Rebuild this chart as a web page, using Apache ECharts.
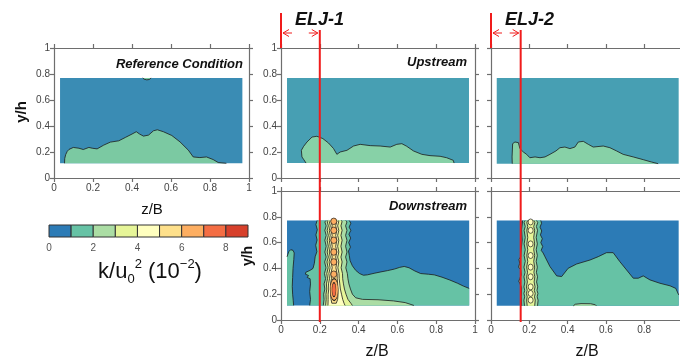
<!DOCTYPE html>
<html><head><meta charset="utf-8">
<script src="https://cdn.jsdelivr.net/npm/echarts@6/dist/echarts.min.js"></script>
<style>html,body{margin:0;padding:0;background:#fff}#c{width:680px;height:360px}</style>
</head><body><div id="c"></div>
<script>
// ---------------- DATA ----------------
const levels = [0, 1, 2, 3, 4, 5, 6, 7, 8, 9];
const levelColors = ['#2c7bb6', '#66c2a5', '#abdda4', '#e6f598', '#ffffbf', '#fee08b', '#fdae61', '#f46d43', '#d7402b'];
const colorbarTicks = [0, 2, 4, 6, 8];
const panelTitles = ['Reference Condition', 'Upstream', 'Upstream', 'Downstream', 'Downstream'];
const jetNames = ['ELJ-1', 'ELJ-2'];
const jetPositions = [0.2, 0.155];         // z/B of the jets (red lines)

// measurement window (z/B from, z/B to, y/h from, y/h to)
const rectRef = [0.031, 0.966, 0.113, 0.77];
const rectUp1 = [0.031, 0.969, 0.115, 0.77];
const rectUp2 = [0.030, 0.980, 0.110, 0.77];
const rectDn1 = [0.031, 0.970, 0.113, 0.771];
const rectDn2 = [0.030, 0.980, 0.110, 0.771];

// Reference condition: 1-2 contour
const refGreen = [[0.054,0.113],[0.055,0.15],[0.060,0.18],[0.068,0.205],[0.077,0.22],[0.099,0.235],[0.128,0.229],[0.150,0.219],[0.179,0.235],[0.196,0.229],[0.221,0.224],[0.255,0.253],[0.289,0.276],[0.332,0.286],[0.366,0.312],[0.400,0.338],[0.422,0.356],[0.439,0.338],[0.459,0.322],[0.485,0.330],[0.510,0.363],[0.530,0.371],[0.561,0.356],[0.604,0.327],[0.646,0.278],[0.689,0.214],[0.714,0.162],[0.748,0.157],[0.782,0.162],[0.816,0.142],[0.842,0.119],[0.884,0.113]];
const refTopBump = [[0.455,0.77],[0.462,0.76],[0.476,0.755],[0.490,0.758],[0.497,0.77]];

// Upstream ELJ-1
const up1Green = [[0.129,0.115],[0.118,0.14],[0.108,0.162],[0.105,0.213],[0.117,0.244],[0.134,0.277],[0.160,0.315],[0.185,0.321],[0.216,0.303],[0.245,0.269],[0.271,0.226],[0.288,0.182],[0.305,0.200],[0.340,0.213],[0.374,0.246],[0.408,0.259],[0.460,0.249],[0.511,0.246],[0.563,0.238],[0.597,0.259],[0.623,0.264],[0.648,0.244],[0.683,0.208],[0.726,0.182],[0.768,0.172],[0.820,0.167],[0.854,0.156],[0.888,0.136],[0.892,0.115]];

// Upstream ELJ-2
const up2Green = [[0.111,0.110],[0.110,0.162],[0.113,0.264],[0.125,0.277],[0.143,0.272],[0.151,0.226],[0.169,0.200],[0.186,0.182],[0.203,0.156],[0.230,0.162],[0.256,0.156],[0.282,0.162],[0.308,0.182],[0.339,0.208],[0.360,0.233],[0.386,0.238],[0.412,0.226],[0.438,0.238],[0.456,0.277],[0.482,0.282],[0.508,0.259],[0.534,0.238],[0.586,0.246],[0.621,0.233],[0.656,0.208],[0.690,0.182],[0.743,0.162],[0.795,0.141],[0.838,0.123],[0.873,0.110]];

// Downstream ELJ-1
const dn1GreenLeft = [[0.186,0.771],[0.180,0.74],[0.187,0.70],[0.180,0.66],[0.186,0.62],[0.179,0.58],[0.185,0.53],[0.176,0.49],[0.172,0.44],[0.165,0.40],[0.150,0.385],[0.128,0.37],[0.126,0.355],[0.142,0.345],[0.135,0.33],[0.150,0.32],[0.152,0.28],[0.148,0.22],[0.152,0.16],[0.148,0.113]];
const dn1GreenRight = [[0.352,0.771],[0.360,0.75],[0.351,0.72],[0.360,0.695],[0.350,0.665],[0.359,0.635],[0.349,0.60],[0.358,0.565],[0.348,0.535],[0.352,0.50],[0.356,0.46],[0.368,0.42],[0.385,0.385],[0.405,0.36],[0.425,0.347],[0.445,0.35],[0.48,0.362],[0.515,0.373],[0.55,0.383],[0.585,0.395],[0.612,0.408],[0.635,0.415],[0.66,0.405],[0.69,0.38],[0.72,0.36],[0.76,0.355],[0.79,0.35],[0.83,0.332],[0.87,0.31],[0.91,0.285],[0.94,0.263],[0.970,0.245]];
const dn1Strip = [[0.031,0.49],[0.040,0.53],[0.050,0.545],[0.062,0.54],[0.068,0.52],[0.066,0.47],[0.062,0.40],[0.060,0.33],[0.058,0.26],[0.060,0.20],[0.063,0.15],[0.065,0.113]];
const dn1L2Left = [[0.232,0.771],[0.226,0.76],[0.233,0.73],[0.226,0.695],[0.233,0.656],[0.226,0.618],[0.233,0.572],[0.226,0.527],[0.233,0.488],[0.225,0.45],[0.232,0.405],[0.224,0.36],[0.230,0.32],[0.222,0.28],[0.226,0.24],[0.220,0.20],[0.222,0.16],[0.218,0.113]];
const dn1L2Right = [[0.334,0.771],[0.340,0.76],[0.333,0.73],[0.340,0.695],[0.333,0.656],[0.340,0.618],[0.333,0.572],[0.340,0.527],[0.333,0.488],[0.340,0.45],[0.334,0.405],[0.342,0.36],[0.345,0.32],[0.350,0.28],[0.358,0.24],[0.368,0.20],[0.385,0.172],[0.42,0.16],[0.50,0.157],[0.58,0.148],[0.64,0.135],[0.685,0.113]];
const dn1L3Left = [[0.243,0.771],[0.238,0.765],[0.244,0.73],[0.238,0.695],[0.244,0.656],[0.238,0.618],[0.244,0.572],[0.238,0.527],[0.244,0.488],[0.237,0.45],[0.243,0.405],[0.236,0.36],[0.240,0.32],[0.234,0.28],[0.236,0.24],[0.232,0.20],[0.233,0.16],[0.230,0.113]];
const dn1L3Right = [[0.310,0.771],[0.315,0.765],[0.309,0.73],[0.315,0.695],[0.309,0.656],[0.315,0.618],[0.309,0.572],[0.315,0.527],[0.309,0.488],[0.315,0.45],[0.310,0.405],[0.317,0.36],[0.318,0.32],[0.322,0.28],[0.327,0.24],[0.335,0.20],[0.345,0.16],[0.360,0.13],[0.368,0.113]];
const dn1L4Left = [[0.253,0.771],[0.249,0.765],[0.254,0.73],[0.249,0.695],[0.254,0.656],[0.249,0.618],[0.254,0.572],[0.249,0.527],[0.254,0.488],[0.248,0.45],[0.253,0.405],[0.247,0.36],[0.250,0.32],[0.245,0.28],[0.246,0.24],[0.243,0.20],[0.243,0.16],[0.242,0.113]];
const dn1L4Right = [[0.293,0.771],[0.298,0.765],[0.292,0.73],[0.298,0.695],[0.292,0.656],[0.298,0.618],[0.292,0.572],[0.298,0.527],[0.292,0.488],[0.298,0.45],[0.293,0.405],[0.299,0.36],[0.300,0.32],[0.303,0.28],[0.306,0.24],[0.312,0.20],[0.318,0.16],[0.325,0.13],[0.330,0.113]];
const dn1L5Left = [[0.262,0.771],[0.258,0.765],[0.264,0.73],[0.258,0.695],[0.264,0.656],[0.258,0.618],[0.264,0.572],[0.258,0.527],[0.264,0.488],[0.258,0.45],[0.264,0.405],[0.257,0.36],[0.260,0.32],[0.255,0.28],[0.256,0.24],[0.255,0.20],[0.258,0.16],[0.262,0.13]];
const dn1L5Right = [[0.284,0.771],[0.288,0.765],[0.282,0.73],[0.288,0.695],[0.282,0.656],[0.288,0.618],[0.282,0.572],[0.288,0.527],[0.282,0.488],[0.288,0.45],[0.283,0.405],[0.289,0.36],[0.290,0.32],[0.292,0.28],[0.293,0.24],[0.294,0.20],[0.292,0.16],[0.285,0.13]];
const dn1Beads = [[0.272,0.765],[0.272,0.695],[0.272,0.618],[0.272,0.527],[0.272,0.45],[0.272,0.355]];
const dn1Core6 = [[0.274,0.235]];
const dn1Core7 = [[0.273,0.235]];

// Downstream ELJ-2
const dn2GreenLeft = [[0.165,0.771],[0.160,0.70],[0.163,0.62],[0.158,0.55],[0.155,0.49],[0.146,0.47],[0.150,0.44],[0.144,0.41],[0.155,0.39],[0.158,0.35],[0.150,0.32],[0.145,0.30],[0.152,0.28],[0.160,0.25],[0.158,0.18],[0.160,0.11]];
const dn2GreenRight = [[0.260,0.771],[0.264,0.75],[0.256,0.72],[0.265,0.69],[0.258,0.66],[0.268,0.63],[0.260,0.60],[0.270,0.57],[0.262,0.54],[0.272,0.52],[0.282,0.49],[0.308,0.414],[0.343,0.342],[0.369,0.337],[0.403,0.401],[0.447,0.434],[0.517,0.465],[0.560,0.491],[0.603,0.522],[0.638,0.522],[0.673,0.452],[0.708,0.388],[0.743,0.324],[0.769,0.324],[0.795,0.342],[0.830,0.311],[0.882,0.285],[0.935,0.265],[0.965,0.245],[0.980,0.195]];
const dn2L2Left = [[0.178,0.771],[0.173,0.755],[0.179,0.725],[0.173,0.695],[0.179,0.64],[0.173,0.59],[0.179,0.545],[0.173,0.50],[0.179,0.455],[0.172,0.41],[0.178,0.37],[0.172,0.335],[0.177,0.295],[0.172,0.257],[0.176,0.23],[0.172,0.206],[0.176,0.18],[0.172,0.154],[0.175,0.11]];
const dn2L2Right = [[0.238,0.771],[0.244,0.755],[0.237,0.725],[0.243,0.695],[0.236,0.64],[0.242,0.59],[0.236,0.545],[0.242,0.50],[0.236,0.455],[0.242,0.41],[0.237,0.37],[0.243,0.335],[0.238,0.295],[0.244,0.257],[0.240,0.23],[0.245,0.206],[0.241,0.18],[0.246,0.154],[0.243,0.11]];
const dn2L3Left = [[0.191,0.771],[0.187,0.755],[0.192,0.725],[0.187,0.695],[0.192,0.64],[0.187,0.59],[0.192,0.545],[0.187,0.50],[0.192,0.455],[0.186,0.41],[0.191,0.37],[0.186,0.335],[0.190,0.295],[0.185,0.257],[0.189,0.23],[0.185,0.206],[0.189,0.18],[0.186,0.154],[0.189,0.11]];
const dn2L3Right = [[0.224,0.771],[0.229,0.755],[0.223,0.725],[0.228,0.695],[0.223,0.64],[0.228,0.59],[0.223,0.545],[0.228,0.50],[0.223,0.455],[0.228,0.41],[0.224,0.37],[0.229,0.335],[0.225,0.295],[0.230,0.257],[0.226,0.23],[0.231,0.206],[0.227,0.18],[0.231,0.154],[0.228,0.11]];
const dn2Beads = [[0.207,0.76],[0.207,0.695],[0.207,0.59],[0.207,0.50],[0.207,0.41],[0.207,0.335],[0.207,0.257],[0.207,0.206],[0.207,0.154]];
const dn2BottomPatch = [[0.43,0.11],[0.44,0.122],[0.47,0.127],[0.52,0.126],[0.545,0.118],[0.55,0.11]];

// ---------------- STYLE / LAYOUT ----------------
const FONT = 'Arial, "Liberation Sans", Helvetica, sans-serif';
const AX = {color: '#6e6e6e', width: 1.2};
const grids = [
  {left: 54, top: 48, width: 195, height: 130},
  {left: 281, top: 48, width: 194, height: 130},
  {left: 491, top: 48, width: 191.5, height: 130},
  {left: 281, top: 191, width: 194, height: 129},
  {left: 491, top: 191, width: 191.5, height: 129},
  {left: 49, top: 225, width: 199, height: 12}
];
const panelOpts = [
  {xLab: true, yLab: true, xMax: true},
  {xLab: false, yLab: true, xMax: true},
  {xLab: false, yLab: false, xMax: false},
  {xLab: true, yLab: true, xMax: true},
  {xLab: true, yLab: false, xMax: false}
];
const palette = {
  ref: {blue: '#3a8cb4', green: '#7bc9a2'},
  up: {blue: '#479fb3', green: '#87d1a7'},
  dn: {blue: levelColors[0], green: levelColors[1]}
};

const xAxes = [], yAxes = [];
panelOpts.forEach((o, g) => {
  const base = {type: 'value', gridIndex: g, min: 0, max: 1, interval: 0.2,
    splitLine: {show: false}, axisLine: {show: true, onZero: false, lineStyle: AX},
    axisTick: {show: true, inside: false, length: 4, lineStyle: AX}};
  xAxes.push(Object.assign({}, base, {position: 'bottom',
    axisLabel: {show: o.xLab, fontSize: 10, color: '#444', margin: 5, fontFamily: FONT, showMaxLabel: o.xMax}}));
  xAxes.push(Object.assign({}, base, {position: 'top', axisLabel: {show: false}}));
  yAxes.push(Object.assign({}, base, {position: 'left',
    axisLabel: {show: o.yLab, fontSize: 10, color: '#444', margin: 4, fontFamily: FONT}}));
  yAxes.push(Object.assign({}, base, {position: 'right', axisLabel: {show: false}}));
});
// colorbar axes
xAxes.push({type: 'value', gridIndex: 5, min: 0, max: 9, interval: 1,
  axisLine: {show: false}, axisTick: {show: false}, splitLine: {show: false},
  axisLabel: {fontSize: 10, color: '#555', margin: 6, fontFamily: FONT,
    formatter: v => colorbarTicks.indexOf(v) >= 0 ? String(v) : ''}});
yAxes.push({type: 'value', gridIndex: 5, min: 0, max: 1, show: false});

function rectPoly(r) { return [[r[0], r[2]], [r[1], r[2]], [r[1], r[3]], [r[0], r[3]]]; }
function rev(a) { return a.slice().reverse(); }

function region(g, fillPts, lines, color) {
  return {
    type: 'custom', xAxisIndex: 2 * g, yAxisIndex: 2 * g, silent: true, clip: true, z: 2,
    data: fillPts, encode: {x: 0, y: 1},
    renderItem: function (params, api) {
      if (params.dataIndex !== 0) return null;
      const children = [{type: 'polygon', shape: {points: fillPts.map(p => api.coord(p))},
        style: {fill: color, stroke: null}}];
      (lines || []).forEach(l => children.push({type: 'polyline', shape: {points: l.map(p => api.coord(p))},
        style: {fill: null, stroke: '#1c1c1c', lineWidth: 0.8}}));
      return {type: 'group', children: children};
    }
  };
}
function beads(g, pts, size, color) {
  return {type: 'scatter', xAxisIndex: 2 * g, yAxisIndex: 2 * g, silent: true, z: 2,
    symbol: 'circle', symbolSize: size, data: pts,
    itemStyle: {color: color, borderColor: '#1c1c1c', borderWidth: 0.7, opacity: 1}};
}

const series = [];
// Reference
series.push(region(0, rectPoly(rectRef), [], palette.ref.blue));
series.push(region(0, refGreen, [refGreen], palette.ref.green));
series.push(region(0, refTopBump, [refTopBump], palette.ref.green));
// Upstream ELJ-1
series.push(region(1, rectPoly(rectUp1), [], palette.up.blue));
series.push(region(1, up1Green, [up1Green], palette.up.green));
// Upstream ELJ-2
series.push(region(2, rectPoly(rectUp2), [], palette.up.blue));
series.push(region(2, up2Green, [up2Green], palette.up.green));
// Downstream ELJ-1
series.push(region(3, rectPoly(rectDn1), [], levelColors[0]));
series.push(region(3, dn1GreenLeft.concat([[rectDn1[1], rectDn1[2]]], rev(dn1GreenRight)), [dn1GreenLeft, dn1GreenRight], levelColors[1]));
series.push(region(3, dn1Strip.concat([[rectDn1[0], rectDn1[2]]]), [dn1Strip], levelColors[1]));
series.push(region(3, dn1L2Left.concat(rev(dn1L2Right)), [dn1L2Left, dn1L2Right], levelColors[2]));
series.push(region(3, dn1L3Left.concat(rev(dn1L3Right)), [dn1L3Left, dn1L3Right], levelColors[3]));
series.push(region(3, dn1L4Left.concat(rev(dn1L4Right)), [dn1L4Left, dn1L4Right], levelColors[4]));
series.push(region(3, dn1L5Left.concat(rev(dn1L5Right)), [dn1L5Left.concat(rev(dn1L5Right))], levelColors[5]));
series.push(beads(3, dn1Beads, [6, 6.5], levelColors[6]));
series.push(beads(3, dn1Core6, [8, 22], levelColors[6]));
series.push(beads(3, dn1Core7, [4, 14], levelColors[7]));
// Downstream ELJ-2
series.push(region(4, rectPoly(rectDn2), [], levelColors[0]));
series.push(region(4, dn2GreenLeft.concat([[rectDn2[1], rectDn2[2]]], rev(dn2GreenRight)), [dn2GreenLeft, dn2GreenRight], levelColors[1]));
series.push(region(4, dn2BottomPatch, [dn2BottomPatch], levelColors[2]));
series.push(region(4, dn2L2Left.concat(rev(dn2L2Right)), [dn2L2Left, dn2L2Right], levelColors[2]));
series.push(region(4, dn2L3Left.concat(rev(dn2L3Right)), [dn2L3Left, dn2L3Right], levelColors[3]));
series.push(beads(4, dn2Beads, [5, 6], levelColors[4]));
// Colorbar
const cells = levelColors.map((c, i) => [levels[i], levels[i + 1], i]);
series.push({type: 'custom', xAxisIndex: 10, yAxisIndex: 10, silent: true, data: cells,
  encode: {x: [0, 1]},
  renderItem: function (params, api) {
    const p0 = api.coord([api.value(0), 1]);
    const p1 = api.coord([api.value(1), 0]);
    return {type: 'rect', shape: {x: p0[0], y: p0[1], width: p1[0] - p0[0], height: p1[1] - p0[1]},
      style: {fill: levelColors[api.value(2)], stroke: '#333', lineWidth: 1}};
  }});

const chart = echarts.init(document.getElementById('c'), null, {renderer: 'canvas'});
chart.setOption({
  backgroundColor: '#ffffff',
  animation: false,
  grid: grids.map(g => Object.assign({outerBoundsMode: 'none', containLabel: false}, g)),
  xAxis: xAxes, yAxis: yAxes, series: series
});

// ---------------- ANNOTATIONS ----------------
const RED = '#f01c1c';
const gfx = [];
function txt(x, y, s, size, opts) {
  gfx.push(Object.assign({type: 'text', x: x, y: y, silent: true, z: 50,
    style: Object.assign({text: s, fontSize: size, fontFamily: FONT, fill: '#111', align: 'center', verticalAlign: 'middle'}, opts || {})}, {}));
}
txt(243, 64, panelTitles[0], 13, {fontWeight: 'bold', fontStyle: 'italic', align: 'right'});
txt(467, 62, panelTitles[1], 13, {fontWeight: 'bold', fontStyle: 'italic', align: 'right'});
txt(467, 206, panelTitles[3], 13, {fontWeight: 'bold', fontStyle: 'italic', align: 'right'});
gfx.push({type: 'text', x: 22, y: 112, rotation: Math.PI / 2, silent: true,
  style: {text: 'y/h', fontSize: 15, fontWeight: 'bold', fontFamily: FONT, fill: '#111', align: 'center', verticalAlign: 'middle'}});
gfx.push({type: 'text', x: 248, y: 256, rotation: Math.PI / 2, silent: true,
  style: {text: 'y/h', fontSize: 14, fontWeight: 'bold', fontFamily: FONT, fill: '#111', align: 'center', verticalAlign: 'middle'}});
txt(152, 210, 'z/B', 15, {});
txt(377, 352, 'z/B', 16, {});
txt(587, 352, 'z/B', 16, {});
gfx.push({type: 'text', x: 150, y: 272, silent: true,
  style: {text: '{m|k/u}{sub|0}{sup|2}{m| (10}{sup|\u22122}{m|)}', align: 'center', verticalAlign: 'middle',
    rich: {
      m: {fontSize: 22, fontFamily: FONT, fill: '#111', lineHeight: 28},
      sub: {fontSize: 13, fontFamily: FONT, fill: '#111', verticalAlign: 'bottom', lineHeight: 28},
      sup: {fontSize: 13, fontFamily: FONT, fill: '#111', verticalAlign: 'top', lineHeight: 28}
    }}});

[[2, 6], [4, 8]].forEach((idx, k) => {
  const up = idx[0] / 2 * 0 + (k === 0 ? 1 : 2);
  const dn = k === 0 ? 3 : 4;
  const origin = chart.convertToPixel({xAxisIndex: 2 * up, yAxisIndex: 2 * up}, [0, 1]);
  const jet = chart.convertToPixel({xAxisIndex: 2 * dn, yAxisIndex: 2 * dn}, [jetPositions[k], 0]);
  const x0 = origin[0], yTop = origin[1], x1 = jet[0], yBot = jet[1] + 2;
  gfx.push({type: 'line', silent: true, z: 60, shape: {x1: x0, y1: 13, x2: x0, y2: yTop}, style: {stroke: RED, lineWidth: 2}});
  gfx.push({type: 'line', silent: true, z: 60, shape: {x1: x1, y1: 30, x2: x1, y2: yBot}, style: {stroke: RED, lineWidth: 2}});
  const ay = 33;
  gfx.push({type: 'line', silent: true, z: 60, shape: {x1: x0 + 2, y1: ay, x2: x0 + 11, y2: ay}, style: {stroke: RED, lineWidth: 1}});
  gfx.push({type: 'polyline', silent: true, z: 60, shape: {points: [[x0 + 8, ay - 3.5], [x0 + 2, ay], [x0 + 8, ay + 3.5]]}, style: {stroke: RED, lineWidth: 1, fill: null}});
  gfx.push({type: 'line', silent: true, z: 60, shape: {x1: x1 - 11, y1: ay, x2: x1 - 2, y2: ay}, style: {stroke: RED, lineWidth: 1}});
  gfx.push({type: 'polyline', silent: true, z: 60, shape: {points: [[x1 - 8, ay - 3.5], [x1 - 2, ay], [x1 - 8, ay + 3.5]]}, style: {stroke: RED, lineWidth: 1, fill: null}});
  txt(x0 + (k === 0 ? 14 : 14), 20, jetNames[k], 18, {fontWeight: 'bold', fontStyle: 'italic', align: 'left'});
});
chart.setOption({graphic: {elements: gfx}});
</script></body></html>
